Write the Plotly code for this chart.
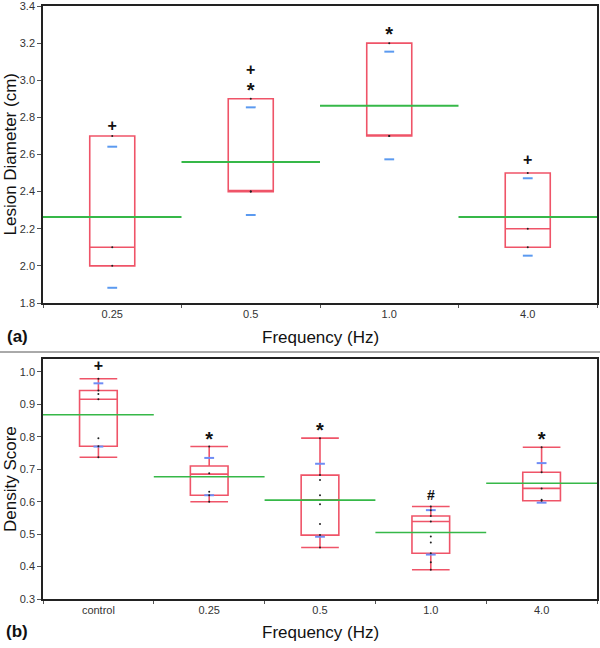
import plotly.graph_objects as go

# ---------------- data: panel (a) ----------------
cats_a = ["0.25", "0.5", "1.0", "4.0"]
q1_a = [2.0, 2.4, 2.7, 2.1]
med_a = [2.1, 2.4, 2.7, 2.2]
q3_a = [2.7, 2.9, 3.2, 2.5]
mean_a = [2.263, 2.559, 2.863, 2.263]
sd_hi_a = [2.642, 2.854, 3.154, 2.472]
sd_lo_a = [1.882, 2.274, 2.574, 2.055]
pts_a = {"0.25": [2.0, 2.1, 2.7], "0.5": [2.4, 2.4, 2.9],
         "1.0": [2.7, 2.7, 3.2], "4.0": [2.1, 2.2, 2.5]}
sig_a_x = ["0.25", "0.5", "0.5", "1.0", "4.0"]
sig_a_y = [2.75, 3.05, 2.935, 3.238, 2.563]
sig_a_t = ["+", "+", "*", "*", "+"]

# ---------------- data: panel (b) ----------------
cats_b = ["control", "0.25", "0.5", "1.0", "4.0"]
lo_b = [0.737, 0.600, 0.459, 0.390, 0.603]
q1_b = [0.771, 0.620, 0.497, 0.441, 0.603]
med_b = [0.916, 0.685, 0.606, 0.539, 0.641]
q3_b = [0.943, 0.710, 0.682, 0.556, 0.691]
hi_b = [0.979, 0.770, 0.796, 0.585, 0.768]
mean_b = [0.868, 0.677, 0.605, 0.505, 0.657]
sd_hi_b = [0.965, 0.735, 0.717, 0.574, 0.719]
sd_lo_b = [0.770, 0.620, 0.492, 0.437, 0.597]
pts_b = {"control": [0.979, 0.943, 0.932, 0.916, 0.796, 0.771, 0.737],
         "0.25": [0.770, 0.688, 0.631, 0.620, 0.600],
         "0.5": [0.796, 0.682, 0.667, 0.620, 0.592, 0.531, 0.497, 0.459],
         "1.0": [0.585, 0.574, 0.556, 0.539, 0.493, 0.474, 0.441, 0.413, 0.390],
         "4.0": [0.768, 0.691, 0.641, 0.606, 0.603]}
sig_b_x = ["control", "0.25", "0.5", "1.0", "4.0"]
sig_b_y = [1.014, 0.788, 0.815, 0.615, 0.788]
sig_b_t = ["+", "*", "*", "#", "*"]

RED = "#ef5468"
GREEN = "#36b848"
BLUE_A = "#5b9af0"
BLUE_B = "#6f8cf5"
FONT = "Arial, Liberation Sans, sans-serif"
SYM_SIZE = {"+": 16, "*": 20, "#": 14}

fig = go.Figure()


def add_panel(cats, q1, med, q3, lo, hi, mean, sdh, sdl, pts, sx, sy, st,
              xa, ya, xov, bw, glw, blue):
    fig.add_trace(go.Box(x=cats, q1=q1, median=med, q3=q3, lowerfence=lo,
                         upperfence=hi, width=bw, whiskerwidth=1,
                         boxpoints=False, fillcolor="rgba(0,0,0,0)",
                         line=dict(color=RED, width=1.6),
                         xaxis=xa, yaxis=ya, showlegend=False))
    # group means as lines spanning each category
    mx, my = [], []
    for i, m in enumerate(mean):
        mx += [i - 0.5, i + 0.5, None]
        my += [m, m, None]
    fig.add_trace(go.Scatter(x=mx, y=my, mode="lines",
                             line=dict(color=GREEN, width=glw),
                             xaxis=xov, yaxis=ya, showlegend=False))
    # mean +/- SD dashes
    fig.add_trace(go.Scatter(x=cats + cats, y=sdh + sdl, mode="markers",
                             marker=dict(symbol="line-ew", size=7,
                                         line=dict(color=blue, width=2)),
                             xaxis=xa, yaxis=ya, showlegend=False))
    # raw data points
    px, py = [], []
    for c in cats:
        for v in pts[c]:
            px.append(c)
            py.append(v)
    fig.add_trace(go.Scatter(x=px, y=py, mode="markers",
                             marker=dict(color="#222", size=2),
                             xaxis=xa, yaxis=ya, showlegend=False))
    # significance marks
    fig.add_trace(go.Scatter(x=sx, y=sy, mode="text", text=st,
                             textfont=dict(family=FONT,
                                           size=[SYM_SIZE[t] for t in st],
                                           color="#111", weight="bold"),
                             xaxis=xa, yaxis=ya, showlegend=False))


add_panel(cats_a, q1_a, med_a, q3_a, q1_a, q3_a, mean_a, sd_hi_a, sd_lo_a,
          pts_a, sig_a_x, sig_a_y, sig_a_t, "x", "y", "x3", 0.325, 2, BLUE_A)
add_panel(cats_b, q1_b, med_b, q3_b, lo_b, hi_b, mean_b, sd_hi_b, sd_lo_b,
          pts_b, sig_b_x, sig_b_y, sig_b_t, "x2", "y2", "x4", 0.34, 1.6, BLUE_B)

xdom = [43 / 600, 597 / 600]
ydom_a = [1 - 303 / 648, 1 - 6 / 648]
ydom_b = [1 - 599 / 648, 1 - 359 / 648]

axis_common = dict(showline=True, linecolor="#222", linewidth=1.5, mirror=True,
                   showgrid=False, zeroline=False, ticks="outside",
                   tickcolor="#555", ticklabeloverflow="allow",
                   tickfont=dict(family=FONT, size=11, color="#333"))

fig.update_layout(
    width=600, height=648, margin=dict(l=0, r=0, t=0, b=0, autoexpand=False),
    paper_bgcolor="white", plot_bgcolor="white",
    xaxis=dict(domain=xdom, anchor="y", type="category",
               categoryorder="array", categoryarray=cats_a,
               range=[-0.5, len(cats_a) - 0.5], tickson="boundaries",
               ticklen=3, **axis_common),
    yaxis=dict(domain=ydom_a, anchor="x", range=[1.8, 3.4],
               tickvals=[1.8, 2.0, 2.2, 2.4, 2.6, 2.8, 3.0, 3.2, 3.4],
               tickformat=".1f", ticklen=4, **axis_common),
    xaxis2=dict(domain=xdom, anchor="y2", type="category",
                categoryorder="array", categoryarray=cats_b,
                range=[-0.5, len(cats_b) - 0.5], tickson="boundaries",
                ticklen=3, **axis_common),
    yaxis2=dict(domain=ydom_b, anchor="x2", range=[0.3, 1.04],
                tickvals=[0.3, 0.4, 0.5, 0.6, 0.7, 0.8, 0.9, 1.0],
                tickformat=".1f", ticklen=4, **axis_common),
    xaxis3=dict(overlaying="x", anchor="y", range=[-0.5, len(cats_a) - 0.5],
                visible=False),
    xaxis4=dict(overlaying="x2", anchor="y2", range=[-0.5, len(cats_b) - 0.5],
                visible=False),
)

title_font = dict(family=FONT, size=17, color="#111")
cx = (xdom[0] + xdom[1]) / 2


def ann(text, x, y, angle=0, font=title_font):
    fig.add_annotation(text=text, x=x, y=y, xref="paper", yref="paper",
                       xanchor="center", yanchor="middle", showarrow=False,
                       textangle=angle, font=font)


ann("Frequency (Hz)", cx, 1 - 337 / 648)
ann("Frequency (Hz)", cx, 1 - 632 / 648)
ann("Lesion Diameter (cm)", 10 / 600, (ydom_a[0] + ydom_a[1]) / 2, -90)
ann("Density Score", 10 / 600, (ydom_b[0] + ydom_b[1]) / 2, -90)
ann("<b>(a)</b>", 17 / 600, 1 - 336 / 648)
ann("<b>(b)</b>", 17 / 600, 1 - 631 / 648)
fig.add_shape(type="line", xref="paper", yref="paper", x0=0, x1=1,
              y0=1 - 352 / 648, y1=1 - 352 / 648,
              line=dict(color="#555", width=1))

fig.write_html(
    "out.html",
    config={"displayModeBar": False},
    post_script="document.body.style.margin='0';"
                "document.body.style.overflow='hidden';",
)
